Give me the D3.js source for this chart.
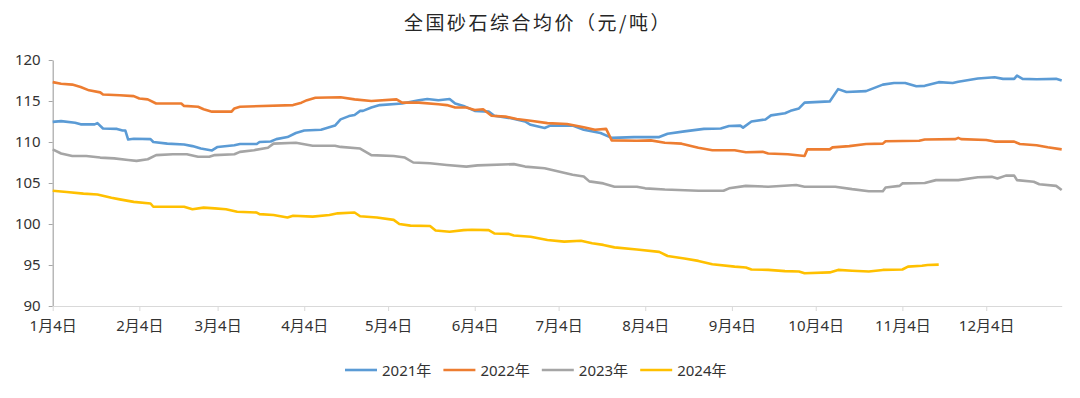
<!DOCTYPE html>
<html><head><meta charset="utf-8">
<script src="https://cdn.jsdelivr.net/npm/d3@7"></script>
<style>
html,body{margin:0;padding:0;background:#fff;}
svg{display:block;}
</style></head>
<body>
<svg id="chart" width="1080" height="398"></svg>
<script>
const title = "全国砂石综合均价（元/吨）";
const seriesNames = ["2021年", "2022年", "2023年", "2024年"];
const colors = ["#5B9BD5", "#ED7D31", "#A5A5A5", "#FFC000"];
const yTicks = [90, 95, 100, 105, 110, 115, 120];
const xTickDates = ["01-04","02-04","03-04","04-04","05-04","06-04","07-04","08-04","09-04","10-04","11-04","12-04"];

const s2021 = [["01-04",112.45],["01-07",112.55],["01-12",112.35],["01-14",112.15],["01-19",112.15],["01-20",112.3],["01-22",111.65],["01-27",111.6],["01-29",111.4],["01-30",111.4],["01-31",110.3],["02-02",110.4],["02-08",110.35],["02-09",110.0],["02-14",109.8],["02-20",109.7],["02-23",109.5],["02-26",109.2],["03-02",108.97],["03-04",109.4],["03-10",109.6],["03-12",109.75],["03-18",109.75],["03-19",110.0],["03-23",110.07],["03-25",110.35],["03-29",110.6],["04-01",111.1],["04-04",111.4],["04-10",111.5],["04-15",112.0],["04-17",112.76],["04-20",113.16],["04-22",113.3],["04-24",113.8],["04-25",113.8],["04-28",114.2],["05-01",114.5],["05-09",114.7],["05-15",115.1],["05-18",115.25],["05-22",115.1],["05-26",115.25],["05-28",114.7],["05-31",114.4],["06-04",113.8],["06-09",113.7],["06-11",113.2],["06-17",112.9],["06-22",112.5],["06-24",112.1],["06-29",111.7],["07-01",112.0],["07-09",112.0],["07-13",111.5],["07-19",111.1],["07-23",110.5],["07-31",110.6],["08-09",110.6],["08-12",111.0],["08-18",111.3],["08-25",111.6],["08-31",111.65],["09-03",111.95],["09-07",112.0],["09-08",111.75],["09-11",112.5],["09-16",112.75],["09-18",113.25],["09-23",113.5],["09-25",113.8],["09-28",114.1],["09-30",114.8],["10-09",114.95],["10-12",116.45],["10-15",116.1],["10-22",116.2],["10-28",117.0],["11-01",117.2],["11-05",117.2],["11-09",116.8],["11-12",116.85],["11-17",117.3],["11-22",117.2],["11-24",117.35],["12-01",117.75],["12-07",117.9],["12-10",117.7],["12-14",117.7],["12-15",118.1],["12-17",117.7],["12-22",117.65],["12-29",117.7],["12-31",117.5]];

const s2022 = [["01-04",117.3],["01-07",117.1],["01-11",117.0],["01-14",116.7],["01-17",116.3],["01-21",116.05],["01-22",115.8],["01-28",115.7],["02-02",115.6],["02-04",115.3],["02-07",115.2],["02-10",114.7],["02-19",114.7],["02-20",114.4],["02-25",114.3],["02-27",114.0],["03-02",113.7],["03-09",113.7],["03-10",114.1],["03-12",114.3],["03-31",114.5],["04-03",114.8],["04-05",115.1],["04-08",115.4],["04-17",115.45],["04-22",115.2],["04-28",115.0],["05-07",115.2],["05-09",114.8],["05-15",114.8],["05-22",114.6],["05-25",114.5],["05-28",114.2],["06-01",114.2],["06-04",113.9],["06-07",114.0],["06-10",113.2],["06-15",113.1],["06-19",112.8],["06-24",112.6],["06-30",112.3],["07-07",112.2],["07-13",111.8],["07-17",111.5],["07-21",111.6],["07-23",110.2],["08-01",110.15],["08-06",110.2],["08-11",109.9],["08-17",109.8],["08-23",109.3],["08-28",109.0],["09-05",109.0],["09-09",108.75],["09-15",108.8],["09-17",108.6],["09-24",108.5],["09-30",108.3],["10-01",109.1],["10-09",109.1],["10-10",109.35],["10-16",109.5],["10-22",109.75],["10-28",109.8],["10-29",110.1],["11-10",110.15],["11-12",110.3],["11-23",110.35],["11-24",110.5],["11-25",110.35],["12-04",110.25],["12-07",110.05],["12-14",110.05],["12-16",109.75],["12-22",109.6],["12-26",109.35],["12-31",109.1]];

const s2023 = [["01-04",109.1],["01-07",108.6],["01-11",108.3],["01-16",108.3],["01-21",108.1],["01-26",108.0],["01-31",107.8],["02-03",107.7],["02-07",107.9],["02-10",108.4],["02-16",108.5],["02-21",108.5],["02-25",108.2],["03-01",108.2],["03-03",108.4],["03-10",108.5],["03-12",108.8],["03-17",109.0],["03-22",109.3],["03-24",109.8],["04-01",109.9],["04-07",109.55],["04-15",109.55],["04-17",109.4],["04-24",109.2],["04-28",108.4],["05-06",108.3],["05-10",108.1],["05-13",107.5],["05-19",107.4],["05-25",107.2],["06-01",107.0],["06-05",107.15],["06-18",107.3],["06-22",107.0],["06-29",106.8],["07-04",106.4],["07-09",106.0],["07-13",105.8],["07-15",105.2],["07-20",104.95],["07-24",104.55],["08-01",104.55],["08-04",104.35],["08-11",104.2],["08-23",104.05],["09-01",104.05],["09-03",104.35],["09-09",104.65],["09-17",104.55],["09-27",104.75],["09-30",104.55],["10-11",104.55],["10-17",104.25],["10-23",104.0],["10-28",104.0],["10-29",104.45],["11-03",104.65],["11-04",104.95],["11-12",105.0],["11-16",105.35],["11-24",105.35],["12-01",105.7],["12-06",105.75],["12-08",105.55],["12-11",105.9],["12-14",105.9],["12-15",105.35],["12-21",105.15],["12-23",104.85],["12-29",104.65],["12-31",104.15]];

const s2024 = [["01-04",104.05],["01-09",103.9],["01-15",103.7],["01-20",103.6],["01-25",103.2],["01-28",103.0],["02-02",102.7],["02-08",102.5],["02-09",102.1],["02-20",102.1],["02-23",101.8],["02-27",102.0],["03-03",101.9],["03-07",101.8],["03-11",101.5],["03-18",101.4],["03-19",101.2],["03-24",101.1],["03-29",100.8],["03-31",101.0],["04-07",100.9],["04-13",101.1],["04-16",101.3],["04-22",101.4],["04-24",100.95],["04-30",100.8],["05-06",100.5],["05-08",100.0],["05-12",99.8],["05-19",99.75],["05-21",99.2],["05-26",99.05],["05-31",99.25],["06-03",99.3],["06-09",99.25],["06-11",98.85],["06-16",98.8],["06-18",98.6],["06-24",98.45],["06-30",98.05],["07-06",97.85],["07-12",97.95],["07-16",97.65],["07-20",97.45],["07-24",97.15],["08-01",96.9],["08-09",96.6],["08-12",96.1],["08-18",95.8],["08-23",95.5],["08-28",95.1],["09-05",94.8],["09-09",94.7],["09-11",94.45],["09-17",94.4],["09-23",94.25],["09-28",94.2],["09-30",94.0],["10-09",94.1],["10-12",94.4],["10-17",94.3],["10-23",94.2],["10-28",94.4],["11-04",94.45],["11-06",94.8],["11-11",94.9],["11-13",95.0],["11-17",95.05]];

const allSeries = [s2021, s2022, s2023, s2024];

const parse = md => d3.timeParse("%Y-%m-%d")("2023-" + md);
const svg = d3.select("#chart");
const font = "'Noto Sans', 'Noto Sans CJK SC', sans-serif";

const x = d3.scaleTime().domain([parse("01-04"), parse("12-31")]).range([52.7, 1061.7]);
const y = d3.scaleLinear().domain([90, 120]).range([306, 60]);

svg.append("text")
  .attr("x", 538).attr("y", 30)
  .attr("text-anchor", "middle")
  .attr("font-family", "'Noto Sans CJK SC', sans-serif")
  .attr("font-size", 19).attr("font-weight", 400)
  .attr("letter-spacing", 2.5)
  .attr("fill", "#262626")
  .text(title);

// y axis
const yAxis = svg.append("g").attr("transform", "translate(52.7,0)")
  .call(d3.axisLeft(y).tickValues(yTicks).tickSize(4).tickSizeOuter(0).tickPadding(8).tickFormat(d3.format("d")));
yAxis.select(".domain").attr("stroke", "#a6a6a6").attr("stroke-width", 1.2);
yAxis.selectAll(".tick line").attr("stroke", "#a6a6a6");
yAxis.selectAll("text").attr("font-family", font).attr("font-size", 15).attr("fill", "#333");

// x axis
const xAxis = svg.append("g").attr("transform", "translate(0,306)")
  .call(d3.axisBottom(x).tickValues(xTickDates.map(parse)).tickSize(5).tickSizeOuter(0).tickPadding(9)
    .tickFormat(d => (d.getMonth() + 1) + "月" + d.getDate() + "日"));
xAxis.select(".domain").attr("stroke", "#d9d9d9").attr("stroke-width", 1.2);
xAxis.selectAll(".tick line").attr("stroke", "#d9d9d9");
xAxis.selectAll("text").attr("font-family", font).attr("font-size", 15).attr("fill", "#333");

const line = d3.line().x(d => x(parse(d[0]))).y(d => y(d[1])).curve(d3.curveLinear);

allSeries.forEach((s, i) => {
  svg.append("path").datum(s)
    .attr("fill", "none")
    .attr("stroke", colors[i])
    .attr("stroke-width", 2.6)
    .attr("stroke-linejoin", "round")
    .attr("d", line);
});

// legend
const legend = svg.append("g").attr("transform", "translate(345,370)");
seriesNames.forEach((n, i) => {
  const g = legend.append("g").attr("transform", `translate(${i * 98.4},0)`);
  g.append("line").attr("x1", 0).attr("x2", 32).attr("y1", 0).attr("y2", 0)
    .attr("stroke", colors[i]).attr("stroke-width", 2.6);
  g.append("text").attr("x", 37).attr("y", 5.5)
    .attr("font-family", font).attr("font-size", 15).attr("fill", "#333").text(n);
});
</script>
</body></html>
